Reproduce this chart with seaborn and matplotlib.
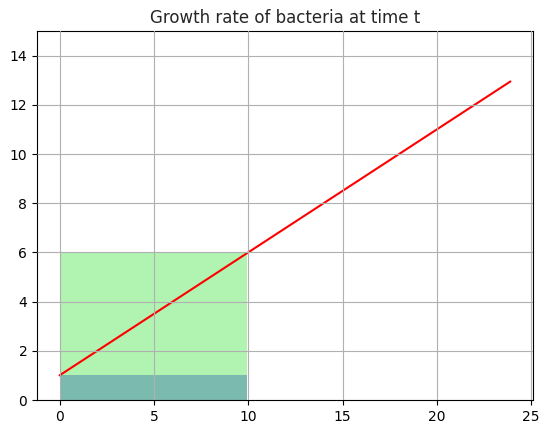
import numpy as np
import matplotlib
matplotlib.use("Agg")
import matplotlib.pyplot as plt
import seaborn as sns

# Данные
t_line = [0, 23.9]
rate_line = [1.0, 12.95]
rect_x = [0, 9.95]
rect_top_green = [6, 6]
rect_top_teal = [1, 1]

sns.set_style("ticks")
plt.rcParams['font.family'] = ['DejaVu Sans']

fig, ax = plt.subplots(figsize=(5.5, 4.33), dpi=100)
fig.subplots_adjust(left=37/550, right=533/550, top=1-31/433, bottom=1-400/433)

ax.fill_between(rect_x, 0, rect_top_green, color='lightgreen', alpha=0.7, linewidth=0)
ax.fill_between(rect_x, 0, rect_top_teal, color='#7bbaae', linewidth=0)
sns.lineplot(x=t_line, y=rate_line, color='red', ax=ax)

ax.set_xlim(-1.195, 25.095)
ax.set_ylim(0, 15)
ax.set_xticks([0, 5, 10, 15, 20, 25])
ax.set_yticks([0, 2, 4, 6, 8, 10, 12, 14])
ax.grid(True, color='#b0b0b0', linewidth=0.8)
ax.set_axisbelow(False)
ax.set_title('Growth rate of bacteria at time t')
for s in ax.spines.values():
    s.set_color('black')
    s.set_linewidth(0.8)
ax.tick_params(colors='black', labelsize=10)

plt.savefig('out.png', dpi=100)
